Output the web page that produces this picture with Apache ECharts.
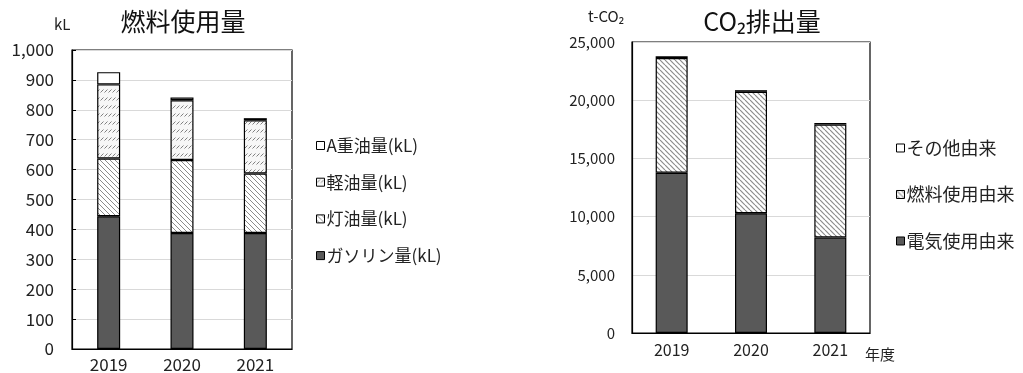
<!DOCTYPE html>
<html>
<head>
<meta charset="utf-8">
<script src="https://cdn.jsdelivr.net/npm/echarts@6/dist/echarts.min.js"></script>
<style>
  html, body { margin: 0; padding: 0; background: #fff; }
  #main { width: 1023px; height: 373px; }
</style>
</head>
<body>
<div id="main"></div>
<script>
// Fiscal years shown on both charts
const years = ['2019', '2020', '2021'];

// Fuel use (kL), bottom to top of each stack
const gasoline = [444, 388, 388];   // ガソリン量
const kerosene = [193, 244, 199];   // 灯油量
const lightOil = [248, 200, 178];   // 軽油量
const heavyOilA = [41, 9, 7];       // A重油量

// CO2 emissions (t-CO2), bottom to top of each stack
const electricity = [13770, 10290, 8200]; // 電気使用由来
const fuel = [9860, 10430, 9710];         // 燃料使用由来
const other = [140, 140, 140];            // その他由来

const FONT = '"Noto Sans CJK JP", "Noto Sans", sans-serif';

// Hatch tiles drawn on small canvases and used as repeating fills
function backslashTile(size, stroke, width) {
  const c = document.createElement('canvas');
  c.width = size; c.height = size;
  const g = c.getContext('2d');
  g.fillStyle = '#fff';
  g.fillRect(0, 0, size, size);
  g.strokeStyle = stroke;
  g.lineWidth = width;
  for (const o of [-size, 0, size]) {
    g.beginPath();
    g.moveTo(o, 0);
    g.lineTo(o + size, size);
    g.stroke();
  }
  return c;
}
function dashedSlashTile() {
  const w = 4, h = 8;
  const c = document.createElement('canvas');
  c.width = w; c.height = h;
  const g = c.getContext('2d');
  g.fillStyle = '#f7f7f7';
  g.fillRect(0, 0, w, h);
  g.strokeStyle = '#808080';
  g.lineWidth = 1;
  g.beginPath();
  g.moveTo(0.5, 4.5);
  g.lineTo(3.5, 1.5);
  g.stroke();
  return c;
}

const keroseneFill = { image: backslashTile(5, '#8c8c8c', 1), repeat: 'repeat' };
const lightOilFill = { image: dashedSlashTile(), repeat: 'repeat' };
const fuelFill = { image: backslashTile(5, '#8c8c8c', 1.2), repeat: 'repeat' };
const darkFill = '#595959';

const edge = { borderColor: '#000', borderWidth: 1.2 };

function bar(name, data, color, axisIndex, width) {
  return {
    name: name,
    type: 'bar',
    stack: 's' + axisIndex,
    xAxisIndex: axisIndex,
    yAxisIndex: axisIndex,
    barWidth: width,
    data: data,
    itemStyle: Object.assign({ color: color }, edge),
    emphasis: { disabled: true }
  };
}

const chart = echarts.init(document.getElementById('main'));

chart.setOption({
  animation: false,
  textStyle: { fontFamily: FONT, color: '#222' },
  title: [
    { text: '燃料使用量', left: 178, top: 4, textAlign: 'center',
      textStyle: { fontFamily: FONT, fontSize: 25, fontWeight: 'normal', color: '#111' } },
    { text: 'CO₂排出量', left: 757, top: 4, textAlign: 'center',
      textStyle: { fontFamily: FONT, fontSize: 25, fontWeight: 'normal', color: '#111' } }
  ],
  graphic: [
    { type: 'text', left: 54, top: 17, style: { text: 'kL', font: '15px ' + FONT, fill: '#222' } },
    { type: 'text', left: 588, top: 9, style: { text: 't-CO₂', font: '15px ' + FONT, fill: '#222' } },
    { type: 'text', left: 865, top: 347, style: { text: '年度', font: '15px ' + FONT, fill: '#222' } }
  ],
  grid: [
    { left: 72, top: 50, width: 220, height: 299, show: true, borderColor: '#000', borderWidth: 1.2, backgroundColor: 'transparent' },
    { left: 632, top: 42, width: 238, height: 291, show: true, borderColor: '#000', borderWidth: 1.2, backgroundColor: 'transparent' }
  ],
  xAxis: [
    { type: 'category', gridIndex: 0, data: years,
      axisLine: { lineStyle: { color: '#000', width: 1.2 } }, axisTick: { show: false },
      axisLabel: { fontSize: 17, color: '#222', margin: 7 } },
    { type: 'category', gridIndex: 1, data: years,
      axisLine: { lineStyle: { color: '#000', width: 1.2 } }, axisTick: { show: false },
      axisLabel: { fontSize: 16, color: '#222', margin: 9 } }
  ],
  yAxis: [
    { type: 'value', gridIndex: 0, min: 0, max: 1000, interval: 100,
      axisLine: { show: true, lineStyle: { color: '#000', width: 1.2 } },
      axisTick: { show: true, inside: true, length: 4, lineStyle: { color: '#000' } },
      splitLine: { lineStyle: { color: '#d9d9d9' } },
      axisLabel: { fontSize: 17, color: '#222', margin: 18,
        formatter: v => v.toLocaleString('en-US') } },
    { type: 'value', gridIndex: 1, min: 0, max: 25000, interval: 5000,
      axisLine: { show: true, lineStyle: { color: '#000', width: 1.2 } },
      axisTick: { show: false },
      splitLine: { lineStyle: { color: '#d9d9d9' } },
      axisLabel: { fontSize: 15, color: '#222', margin: 17,
        formatter: v => v.toLocaleString('en-US') } }
  ],
  legend: [
    { orient: 'vertical', left: 311, top: 132, itemGap: 19.7, itemWidth: 8, itemHeight: 8, icon: 'rect',
      itemStyle: { borderWidth: 1 },
      data: ['A重油量(kL)', '軽油量(kL)', '灯油量(kL)', 'ガソリン量(kL)'],
      textStyle: { fontSize: 17, color: '#222', padding: [0, 0, 0, -3] }, selectedMode: false },
    { orient: 'vertical', left: 891, top: 134, itemGap: 28.5, itemWidth: 8, itemHeight: 8, icon: 'rect',
      itemStyle: { borderWidth: 1 },
      data: ['その他由来', '燃料使用由来', '電気使用由来'],
      textStyle: { fontSize: 18, color: '#222', padding: [0, 0, 0, -3] }, selectedMode: false }
  ],
  series: [
    bar('ガソリン量(kL)', gasoline, darkFill, 0, 23),
    bar('灯油量(kL)', kerosene, keroseneFill, 0, 23),
    bar('軽油量(kL)', lightOil, lightOilFill, 0, 23),
    bar('A重油量(kL)', heavyOilA, '#fff', 0, 23),
    bar('電気使用由来', electricity, darkFill, 1, 32),
    bar('燃料使用由来', fuel, fuelFill, 1, 32),
    bar('その他由来', other, '#fff', 1, 32)
  ]
});
</script>
</body>
</html>
